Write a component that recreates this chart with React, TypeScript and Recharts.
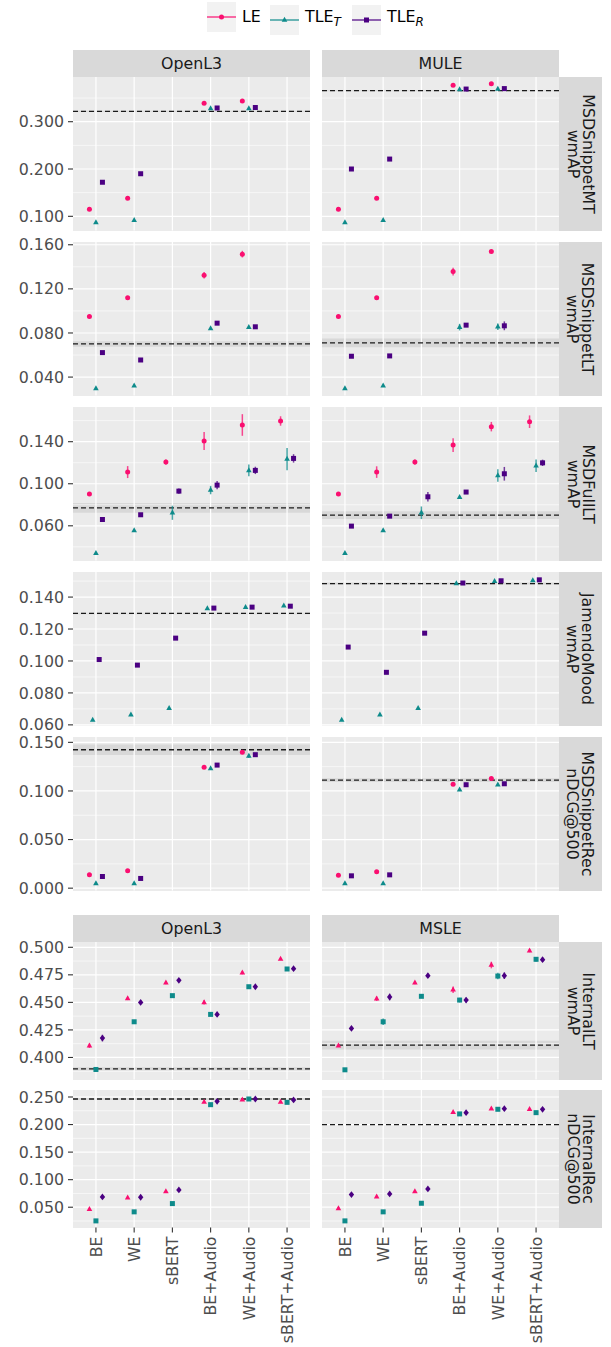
import React from "react";
import {
  ScatterChart,
  Scatter,
  XAxis,
  YAxis,
  ReferenceLine,
  ReferenceArea,
  ErrorBar,
} from "recharts";

const CATEGORIES = ["BE", "WE", "sBERT", "BE+Audio", "WE+Audio", "sBERT+Audio"];
const SERIES = ["LE", "TLE_T", "TLE_R"];
const TOP_COLUMNS = ["OpenL3", "MULE"];
const BOTTOM_COLUMNS = ["OpenL3", "MSLE"];

type V = number | null;

// MSDSnippetMT / wmAP
const mtOpenL3LE: V[] = [0.115, 0.138, null, 0.339, 0.344, null];
const mtOpenL3TT: V[] = [0.087, 0.092, null, 0.328, 0.328, null];
const mtOpenL3TR: V[] = [0.172, 0.19, null, 0.329, 0.33, null];
const mtMuleLE: V[] = [0.115, 0.138, null, 0.377, 0.38, null];
const mtMuleTT: V[] = [0.087, 0.092, null, 0.368, 0.369, null];
const mtMuleTR: V[] = [0.2, 0.221, null, 0.369, 0.37, null];
const mtBase = [0.322, 0.3655];
const mtBand = [0.001, 0.001];

// MSDSnippetLT / wmAP
const ltOpenL3LE: V[] = [0.095, 0.112, null, 0.1324, 0.1515, null];
const ltOpenL3LEErr = [0, 0, 0, 0.003, 0.003, 0];
const ltOpenL3TT: V[] = [0.0297, 0.0321, null, 0.0841, 0.0853, null];
const ltOpenL3TR: V[] = [0.0622, 0.0555, null, 0.0889, 0.0856, null];
const ltMuleLE: V[] = [0.095, 0.112, null, 0.1357, 0.1539, null];
const ltMuleLEErr = [0, 0, 0, 0.0035, 0.0015, 0];
const ltMuleTT: V[] = [0.0297, 0.0321, null, 0.0853, 0.0856, null];
const ltMuleTTErr = [0, 0, 0, 0.003, 0.003, 0];
const ltMuleTR: V[] = [0.0589, 0.0592, null, 0.0871, 0.0865, null];
const ltMuleTRErr = [0, 0, 0, 0.0015, 0.004, 0];
const ltBase = [0.0701, 0.071];
const ltBand = [0.0025, 0.004];

// MSDFullLT / wmAP
const fullOpenL3LE: V[] = [0.0902, 0.1111, 0.1206, 0.1406, 0.1559, 0.1597];
const fullOpenL3LEErr = [0.0015, 0.0057, 0.0025, 0.0086, 0.0103, 0.0045];
const fullOpenL3TT: V[] = [0.034, 0.0555, 0.0724, 0.094, 0.1127, 0.1235];
const fullOpenL3TTErr = [0, 0.001, 0.0067, 0.004, 0.0055, 0.0106];
const fullOpenL3TR: V[] = [0.066, 0.0705, 0.093, 0.0987, 0.1127, 0.1241];
const fullOpenL3TRErr = [0.001, 0.001, 0.0025, 0.004, 0.0035, 0.004];
const fullMuleLE: V[] = [0.0902, 0.1111, 0.1206, 0.1368, 0.1543, 0.159];
const fullMuleLEErr = [0.0015, 0.0055, 0.0025, 0.0065, 0.0045, 0.006];
const fullMuleTT: V[] = [0.034, 0.0555, 0.0724, 0.0873, 0.1079, 0.1171];
const fullMuleTTErr = [0, 0.001, 0.006, 0.001, 0.006, 0.006];
const fullMuleTR: V[] = [0.0597, 0.0692, 0.0876, 0.0921, 0.1095, 0.1199];
const fullMuleTRErr = [0.001, 0.001, 0.0045, 0.001, 0.0065, 0.003];
const fullBase = [0.0771, 0.0702];
const fullBand = [0.0046, 0.0037];

// JamendoMood / wmAP
const jamOpenL3TT: V[] = [0.0631, 0.0663, 0.0705, 0.1329, 0.1337, 0.1346];
const jamOpenL3TR: V[] = [0.1009, 0.0974, 0.1143, 0.1331, 0.1337, 0.1343];
const jamMuleTT: V[] = [0.0631, 0.0663, 0.0705, 0.1486, 0.15, 0.1504];
const jamMuleTR: V[] = [0.1087, 0.0929, 0.1174, 0.1488, 0.1502, 0.1508];
const jamBase = [0.1298, 0.1484];
const jamBand = [0.0005, 0.0005];

// MSDSnippetRec / nDCG@500
const recOpenL3LE: V[] = [0.0137, 0.0178, null, 0.1245, 0.1397, null];
const recOpenL3TT: V[] = [0.0048, 0.0048, null, 0.1231, 0.1359, null];
const recOpenL3TTErr = [0, 0, 0, 0, 0.002, 0];
const recOpenL3TR: V[] = [0.012, 0.01, null, 0.1266, 0.1373, null];
const recMuleLE: V[] = [0.0134, 0.0168, null, 0.1068, 0.1129, null];
const recMuleTT: V[] = [0.0048, 0.0048, null, 0.1014, 0.1064, null];
const recMuleTR: V[] = [0.0127, 0.0137, null, 0.1064, 0.1074, null];
const recMuleTRErr = [0, 0, 0, 0.002, 0, 0];
const recBase = [0.1424, 0.1111];
const recBand = [0.0055, 0.002];

// InternalLT / wmAP
const intLtOpenL3LE: V[] = [0.4106, 0.4536, 0.4679, 0.45, 0.477, 0.4894];
const intLtOpenL3LEErr = [0.002, 0.0015, 0.0015, 0.002, 0.0015, 0.001];
const intLtOpenL3TT: V[] = [0.3891, 0.4324, 0.4561, 0.4391, 0.4642, 0.4803];
const intLtOpenL3TTErr = [0.001, 0.001, 0.001, 0.001, 0.001, 0.001];
const intLtOpenL3TR: V[] = [0.4176, 0.45, 0.47, 0.4391, 0.4642, 0.4806];
const intLtOpenL3TRErr = [0.003, 0.0015, 0.0015, 0.0015, 0.0015, 0.0015];
const intLtMsleLE: V[] = [0.4106, 0.4533, 0.4679, 0.4615, 0.4839, 0.497];
const intLtMsleLEErr = [0.001, 0.002, 0.0015, 0.003, 0.003, 0.0015];
const intLtMsleTT: V[] = [0.3888, 0.4324, 0.4555, 0.4521, 0.4739, 0.4891];
const intLtMsleTTErr = [0.001, 0.003, 0.0015, 0.002, 0.003, 0.002];
const intLtMsleTR: V[] = [0.4264, 0.4549, 0.4742, 0.4521, 0.4742, 0.4888];
const intLtMsleTRErr = [0.0015, 0.003, 0.002, 0.002, 0.003, 0.002];
const intLtBase = [0.3897, 0.4112];
const intLtBand = [0.0015, 0.004];

// InternalRec / nDCG@500
const intRecOpenL3LE: V[] = [0.0464, 0.0675, 0.0784, 0.2409, 0.2452, 0.2409];
const intRecOpenL3TT: V[] = [0.0252, 0.0416, 0.0566, 0.2361, 0.2464, 0.2403];
const intRecOpenL3TR: V[] = [0.0687, 0.0681, 0.0814, 0.2421, 0.2464, 0.2446];
const intRecMsleLE: V[] = [0.0476, 0.0693, 0.0784, 0.2222, 0.2289, 0.2277];
const intRecMsleTT: V[] = [0.0252, 0.0416, 0.0572, 0.2193, 0.2277, 0.2216];
const intRecMsleTR: V[] = [0.073, 0.0742, 0.0832, 0.2216, 0.2289, 0.2277];
const intRecErr = [0.002, 0.002, 0.002, 0.002, 0.002, 0.002];
const intRecBase = [0.2464, 0.2];
const intRecBand = [0.002, 0.001];

const COLORS: Record<string, string> = { LE: "#FA0F70", TLE_T: "#0E8B8B", TLE_R: "#4B0082" };
type ShapeName = "circle" | "triangle" | "square" | "diamond";
const TOP_SHAPES: ShapeName[] = ["circle", "triangle", "square"];
const BOTTOM_SHAPES: ShapeName[] = ["triangle", "square", "diamond"];

const FONT = "'DejaVu Sans', sans-serif";
const PANEL_W = 237;
const COL_X = [73, 322];
const Y_AXIS_W = 73;
const STRIP_X = 559;
const STRIP_W = 43;

type PanelData = { values: V[][]; errs: (number[] | undefined)[]; base: number; band: number };
type RowDef = {
  strip: string[];
  top: number;
  height: number;
  domain: [number, number];
  ticks: number[];
  minor: number[];
  shapes: ShapeName[];
  showX: boolean;
  panels: PanelData[];
};

const EMPTY: V[] = [null, null, null, null, null, null];

const ROWS: RowDef[] = [
  {
    strip: ["MSDSnippetMT", "wmAP"], top: 77, height: 153.5, domain: [0.07, 0.3945],
    ticks: [0.1, 0.2, 0.3], minor: [0.15, 0.25, 0.35], shapes: TOP_SHAPES, showX: false,
    panels: [
      { values: [mtOpenL3LE, mtOpenL3TT, mtOpenL3TR], errs: [], base: mtBase[0], band: mtBand[0] },
      { values: [mtMuleLE, mtMuleTT, mtMuleTR], errs: [], base: mtBase[1], band: mtBand[1] },
    ],
  },
  {
    strip: ["MSDSnippetLT", "wmAP"], top: 242, height: 153.5, domain: [0.0233, 0.1625],
    ticks: [0.04, 0.08, 0.12, 0.16], minor: [0.06, 0.1, 0.14], shapes: TOP_SHAPES, showX: false,
    panels: [
      { values: [ltOpenL3LE, ltOpenL3TT, ltOpenL3TR], errs: [ltOpenL3LEErr], base: ltBase[0], band: ltBand[0] },
      { values: [ltMuleLE, ltMuleTT, ltMuleTR], errs: [ltMuleLEErr, ltMuleTTErr, ltMuleTRErr], base: ltBase[1], band: ltBand[1] },
    ],
  },
  {
    strip: ["MSDFullLT", "wmAP"], top: 407, height: 153.5, domain: [0.027, 0.173],
    ticks: [0.06, 0.1, 0.14], minor: [0.04, 0.08, 0.12, 0.16], shapes: TOP_SHAPES, showX: false,
    panels: [
      { values: [fullOpenL3LE, fullOpenL3TT, fullOpenL3TR], errs: [fullOpenL3LEErr, fullOpenL3TTErr, fullOpenL3TRErr], base: fullBase[0], band: fullBand[0] },
      { values: [fullMuleLE, fullMuleTT, fullMuleTR], errs: [fullMuleLEErr, fullMuleTTErr, fullMuleTRErr], base: fullBase[1], band: fullBand[1] },
    ],
  },
  {
    strip: ["JamendoMood", "wmAP"], top: 572, height: 153.5, domain: [0.0596, 0.1557],
    ticks: [0.06, 0.08, 0.1, 0.12, 0.14], minor: [0.07, 0.09, 0.11, 0.13, 0.15], shapes: TOP_SHAPES, showX: false,
    panels: [
      { values: [EMPTY, jamOpenL3TT, jamOpenL3TR], errs: [], base: jamBase[0], band: jamBand[0] },
      { values: [EMPTY, jamMuleTT, jamMuleTR], errs: [], base: jamBase[1], band: jamBand[1] },
    ],
  },
  {
    strip: ["MSDSnippetRec", "nDCG@500"], top: 737, height: 153.5, domain: [-0.0024, 0.1555],
    ticks: [0, 0.05, 0.1, 0.15], minor: [0.025, 0.075, 0.125], shapes: TOP_SHAPES, showX: false,
    panels: [
      { values: [recOpenL3LE, recOpenL3TT, recOpenL3TR], errs: [undefined, recOpenL3TTErr], base: recBase[0], band: recBand[0] },
      { values: [recMuleLE, recMuleTT, recMuleTR], errs: [undefined, undefined, recMuleTRErr], base: recBase[1], band: recBand[1] },
    ],
  },
  {
    strip: ["InternalLT", "wmAP"], top: 942, height: 137.5, domain: [0.38, 0.5048],
    ticks: [0.4, 0.425, 0.45, 0.475, 0.5], minor: [0.3875, 0.4125, 0.4375, 0.4625, 0.4875], shapes: BOTTOM_SHAPES, showX: false,
    panels: [
      { values: [intLtOpenL3LE, intLtOpenL3TT, intLtOpenL3TR], errs: [intLtOpenL3LEErr, intLtOpenL3TTErr, intLtOpenL3TRErr], base: intLtBase[0], band: intLtBand[0] },
      { values: [intLtMsleLE, intLtMsleTT, intLtMsleTR], errs: [intLtMsleLEErr, intLtMsleTTErr, intLtMsleTRErr], base: intLtBase[1], band: intLtBand[1] },
    ],
  },
  {
    strip: ["InternalRec", "nDCG@500"], top: 1090, height: 137.5, domain: [0.0132, 0.2627],
    ticks: [0.05, 0.1, 0.15, 0.2, 0.25], minor: [0.025, 0.075, 0.125, 0.175, 0.225], shapes: BOTTOM_SHAPES, showX: true,
    panels: [
      { values: [intRecOpenL3LE, intRecOpenL3TT, intRecOpenL3TR], errs: [intRecErr, intRecErr, intRecErr], base: intRecBase[0], band: intRecBand[0] },
      { values: [intRecMsleLE, intRecMsleTT, intRecMsleTR], errs: [intRecErr, intRecErr, intRecErr], base: intRecBase[1], band: intRecBand[1] },
    ],
  },
];

function Marker({ kind, cx, cy, color }: { kind: ShapeName; cx: number; cy: number; color: string }) {
  if (kind === "circle") return <circle cx={cx} cy={cy} r={2.5} fill={color} />;
  if (kind === "square") return <rect x={cx - 2.5} y={cy - 2.5} width={5} height={5} fill={color} />;
  if (kind === "triangle")
    return <polygon points={`${cx},${cy - 3.2} ${cx + 2.8},${cy + 1.8} ${cx - 2.8},${cy + 1.8}`} fill={color} />;
  return <polygon points={`${cx},${cy - 3.4} ${cx + 2.7},${cy} ${cx},${cy + 3.4} ${cx - 2.7},${cy}`} fill={color} />;
}

function XTick(props: any) {
  const { x, y, payload } = props;
  return (
    <text
      x={x}
      y={y}
      transform={`rotate(-90 ${x} ${y})`}
      textAnchor="end"
      dy="0.36em"
      fill="#4D4D4D"
      fontSize={15.8}
      fontFamily={FONT}
    >
      {CATEGORIES[payload.value - 1]}
    </text>
  );
}

function Panel({ row, col }: { row: RowDef; col: number }) {
  const panel = row.panels[col];
  const showY = col === 0;
  const active = panel.values.map((v) => v.some((x) => x !== null));
  const n = active.filter(Boolean).length;
  const step = n === 3 ? 0.17 : 0.17;
  let k = 0;
  const offsets = active.map((a) => (a ? (k++ - (n - 1) / 2) * step : 0));
  const xAxisH = row.showX ? 122 : 0;
  const width = PANEL_W + (showY ? Y_AXIS_W : 0);
  const left = showY ? COL_X[0] - Y_AXIS_W : COL_X[1];

  return (
    <>
      <div
        style={{ position: "absolute", left: COL_X[col], top: row.top, width: PANEL_W, height: row.height, background: "#EBEBEB" }}
      />
      <div style={{ position: "absolute", left, top: row.top }}>
        <ScatterChart width={width} height={row.height + xAxisH} margin={{ top: 0, right: 0, bottom: 0, left: 0 }}>
          <XAxis
            type="number"
            dataKey="x"
            domain={[0.4, 6.6]}
            ticks={[1, 2, 3, 4, 5, 6]}
            allowDataOverflow
            interval={0}
            hide={!row.showX}
            height={xAxisH}
            tick={<XTick />}
            tickSize={5}
            tickMargin={4}
            tickLine={{ stroke: "#333333", strokeWidth: 1.1 }}
            axisLine={false}
          />
          <YAxis
            type="number"
            dataKey="y"
            domain={row.domain}
            ticks={row.ticks}
            allowDataOverflow
            interval={0}
            hide={!showY}
            width={showY ? Y_AXIS_W : 0}
            tickFormatter={(v: number) => v.toFixed(3)}
            tick={{ fill: "#4D4D4D", fontSize: 15.8, fontFamily: FONT }}
            tickSize={5}
            tickMargin={4}
            tickLine={{ stroke: "#333333", strokeWidth: 1.1 }}
            axisLine={false}
          />
          {row.minor.map((m) => (
            <ReferenceLine key={`mn${m}`} y={m} stroke="#FFFFFF" strokeWidth={0.6} />
          ))}
          {row.ticks.map((t) => (
            <ReferenceLine key={`mj${t}`} y={t} stroke="#FFFFFF" strokeWidth={1.2} />
          ))}
          {CATEGORIES.map((c, i) => (
            <ReferenceLine key={`v${c}`} x={i + 1} stroke="#FFFFFF" strokeWidth={1.2} />
          ))}
          <ReferenceArea
            y1={panel.base - panel.band}
            y2={panel.base + panel.band}
            fill="#000000"
            fillOpacity={0.08}
            stroke="none"
          />
          <ReferenceLine y={panel.base} stroke="#1A1A1A" strokeWidth={1.3} strokeDasharray="5 3" />
          {SERIES.map((s, si) => {
            if (!active[si]) return null;
            const errs = panel.errs[si];
            const data = panel.values[si]
              .map((v, i) => (v === null ? null : { x: i + 1 + offsets[si], y: v, err: errs ? errs[i] : 0 }))
              .filter(Boolean) as { x: number; y: number; err: number }[];
            const color = COLORS[s];
            const kind = row.shapes[si];
            return (
              <Scatter
                key={s}
                name={s}
                data={data}
                isAnimationActive={false}
                shape={(p: any) => <Marker kind={kind} cx={p.cx} cy={p.cy} color={color} />}
              >
                <ErrorBar dataKey="err" direction="y" width={0} stroke={color} strokeWidth={1.5} strokeOpacity={0.75} />
              </Scatter>
            );
          })}
        </ScatterChart>
      </div>
    </>
  );
}

function Strip({ left, top, width, height, children }: any) {
  return (
    <div
      style={{
        position: "absolute", left, top, width, height, background: "#D9D9D9",
        display: "flex", alignItems: "center", justifyContent: "center",
        color: "#1A1A1A", fontSize: 15.8, fontFamily: FONT,
      }}
    >
      {children}
    </div>
  );
}

function LegendKey({ kind, color }: { kind: ShapeName; color: string }) {
  return (
    <svg width={29} height={30} style={{ background: "#F2F2F2", display: "block" }}>
      <line x1={0} x2={29} y1={15} y2={15} stroke={color} strokeWidth={1.2} />
      <Marker kind={kind} cx={14.5} cy={15} color={color} />
    </svg>
  );
}

function Legend() {
  const items = [
    { x: 207, kind: "circle" as ShapeName, color: COLORS.LE, label: <>LE</> },
    { x: 270, kind: "triangle" as ShapeName, color: COLORS.TLE_T, label: <>TLE<sub style={{ fontStyle: "italic", fontSize: 12 }}>T</sub></> },
    { x: 352, kind: "square" as ShapeName, color: COLORS.TLE_R, label: <>TLE<sub style={{ fontStyle: "italic", fontSize: 12 }}>R</sub></> },
  ];
  return (
    <>
      {items.map((it, i) => (
        <div key={i} style={{ position: "absolute", left: it.x, top: 2, display: "flex", alignItems: "center" }}>
          <LegendKey kind={it.kind} color={it.color} />
          <span style={{ marginLeft: 6, fontSize: 15.8, fontFamily: FONT, color: "#000", lineHeight: "30px" }}>{it.label}</span>
        </div>
      ))}
    </>
  );
}

export default function App() {
  return (
    <div style={{ position: "absolute", left: 0, top: 0, width: 611, height: 1347, background: "#FFFFFF", fontFamily: FONT }}>
      <style>{".recharts-surface{overflow:visible}.recharts-wrapper{overflow:visible}"}</style>
      <Legend />
      {TOP_COLUMNS.map((c, i) => (
        <Strip key={`t${c}`} left={COL_X[i]} top={50} width={PANEL_W} height={27}>{c}</Strip>
      ))}
      {BOTTOM_COLUMNS.map((c, i) => (
        <Strip key={`b${c}`} left={COL_X[i]} top={915} width={PANEL_W} height={27}>{c}</Strip>
      ))}
      {ROWS.map((row, ri) => (
        <React.Fragment key={ri}>
          <Panel row={row} col={0} />
          <Panel row={row} col={1} />
          <Strip left={STRIP_X} top={row.top} width={STRIP_W} height={row.height}>
            <div style={{ transform: "rotate(90deg)", whiteSpace: "nowrap", textAlign: "center", lineHeight: "15px" }}>
              {row.strip[0]}
              <br />
              {row.strip[1]}
            </div>
          </Strip>
        </React.Fragment>
      ))}
    </div>
  );
}
